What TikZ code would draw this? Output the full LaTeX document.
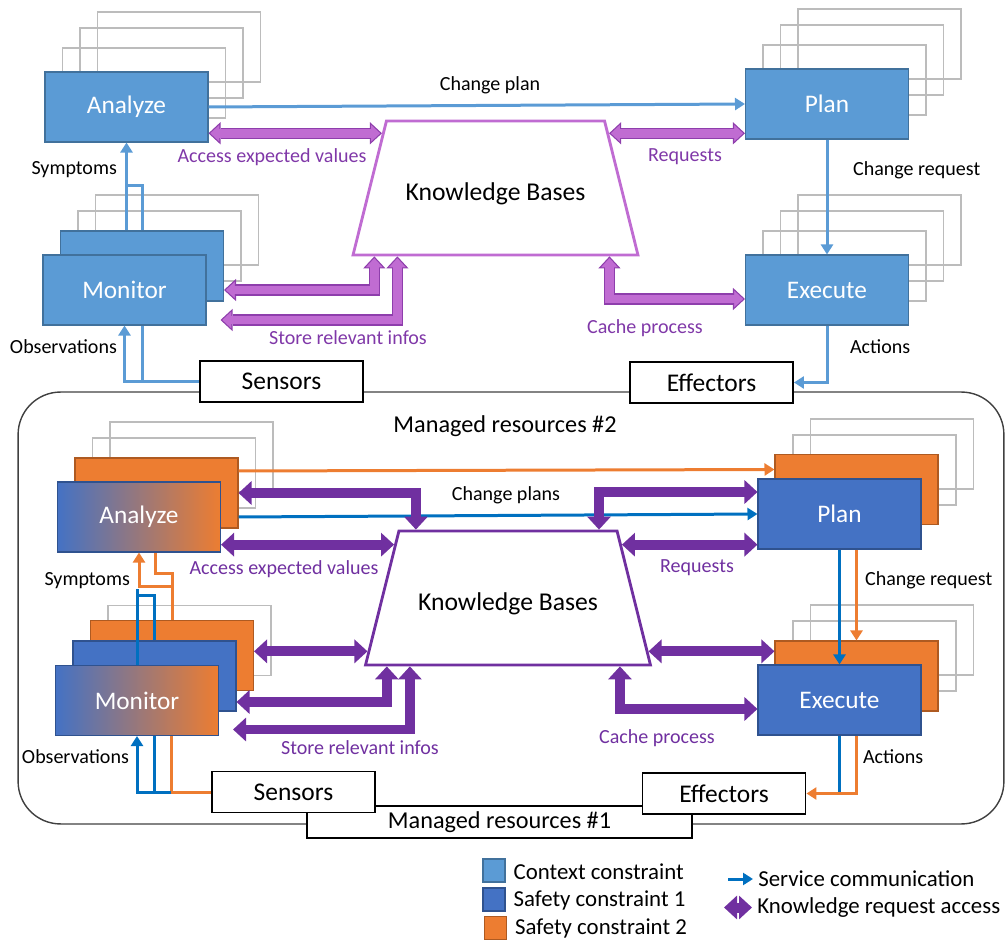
\documentclass[tikz,border=0pt]{standalone}
\usepackage{fontspec}
\setmainfont{Carlito}
\usepackage{tikz}
\usetikzlibrary{shapes,arrows.meta,calc,positioning}
\pgfdeclarelayer{bg}
\pgfdeclarelayer{mid}
\pgfsetlayers{bg,mid,main}

\definecolor{ctxblue}{RGB}{91,155,213}
\definecolor{ctxedge}{RGB}{65,113,156}
\definecolor{safeblue}{RGB}{68,114,196}
\definecolor{safeedge}{RGB}{47,82,143}
\definecolor{safeorange}{RGB}{237,125,49}
\definecolor{orangeedge}{RGB}{174,90,33}
\definecolor{mixpink}{RGB}{184,120,160}
\definecolor{srvblue}{RGB}{0,112,192}
\definecolor{ghostgray}{RGB}{188,188,188}
\definecolor{kblight}{RGB}{192,108,210}
\definecolor{kblightedge}{RGB}{142,62,172}
\definecolor{kblighttext}{RGB}{128,56,168}
\definecolor{kbdark}{RGB}{112,48,160}
\definecolor{framegray}{RGB}{64,64,64}

\tikzstyle{mapek} = [draw, rectangle, minimum width=3.26cm, minimum height=1.4cm, inner sep=0pt, line width=0.6pt, text=white, font=\fontsize{14.4}{17}\selectfont]
\tikzstyle{gradbox} = [mapek, left color=safeblue, middle color=mixpink, right color=safeorange, draw=safeedge]
\tikzstyle{ghost} = [draw=ghostgray, rectangle, minimum width=3.26cm, minimum height=1.4cm, inner sep=0pt, line width=0.9pt]
\tikzstyle{iobox} = [draw, fill=white, rectangle, minimum width=3.26cm, minimum height=0.82cm, inner sep=0pt, line width=1.1pt, font=\fontsize{14.5}{17}\selectfont]
\tikzstyle{kbase} = [trapezium, trapezium stretches body=true, trapezium angle=76, fill=white, minimum width=5.7cm, inner xsep=0pt, inner ysep=1.08cm, line width=1.6pt, text height=0.52cm, text depth=0pt, font=\fontsize{14.6}{17}\selectfont]
\tikzstyle{lbl} = [inner sep=1pt, font=\fontsize{11.4}{13}\selectfont]
\tikzstyle{legsq} = [draw, rectangle, minimum width=0.44cm, minimum height=0.46cm, inner sep=0pt, line width=0.6pt]
\tikzstyle{legtext} = [inner sep=0.1cm, anchor=west, font=\fontsize{13}{15}\selectfont]

\tikzset{
  srv/.tip={Triangle[width=0.24cm,length=0.2cm]},
  kbl/.tip={Triangle[width=0.44cm,length=0.24cm,line width=0.6pt,color=kblightedge,fill=kblight]},
  kbd/.tip={Triangle[width=0.46cm,length=0.26cm]},
  ctxline/.style={draw=ctxblue, line width=0.06cm},
  ctxarrow/.style={ctxline, -srv},
  srvline/.style={draw=srvblue, line width=0.06cm},
  srvarrow/.style={srvline, -srv},
  orgline/.style={draw=safeorange, line width=0.06cm},
  orgarrow/.style={orgline, -srv},
  kbtop/.style={draw=kblight, line width=5.1pt, kbl-kbl,
    preaction={draw=kblightedge, line width=6.3pt, -, shorten <=0.24cm, shorten >=0.24cm},
    postaction={draw=kblight, line width=5.1pt, -, shorten <=0.2cm, shorten >=0.2cm}},
  kbbot/.style={draw=kbdark, line width=0.2cm, kbd-kbd}
}

\begin{document}
\begin{tikzpicture}[x=0.02cm, y=-0.02cm]
\useasboundingbox (0,0) rectangle (1005,942);

%% Managed resources #2 %%
\node [draw=framegray, line width=0.8pt, rounded corners=0.85cm, minimum width=19.72cm, minimum height=8.64cm, inner sep=0pt] (Frame) at (511,608) {};
\node [font=\fontsize{13.8}{16}\selectfont] (FrameTag) at ($(Frame.north)+(-6,35)$) {Managed resources \#2};

%% Loop 1 (context) %%
\node [mapek, fill=ctxblue, draw=ctxedge] (Analyze) at (126.5,107) {Analyze};
\node [mapek, fill=ctxblue, draw=ctxedge] (Monitor) at (124.5,290) {Monitor};
\node [mapek, fill=ctxblue, draw=ctxedge] (Plan) at (827,104) {Plan};
\node [mapek, fill=ctxblue, draw=ctxedge] (Execute) at (827,290) {Execute};

\begin{pgfonlayer}{bg}
\node [ghost] (AnalyzeG1) at ($(Analyze)+(17.5,-24)$) {};
\node [ghost] (AnalyzeG2) at ($(Analyze)+(35,-44)$) {};
\node [ghost] (AnalyzeG3) at ($(Analyze)+(52.5,-60)$) {};
\node [ghost] (MonitorG2) at ($(Monitor)+(35,-44)$) {};
\node [ghost] (MonitorG3) at ($(Monitor)+(52.5,-60)$) {};
\node [ghost] (PlanG1) at ($(Plan)+(17.5,-24)$) {};
\node [ghost] (PlanG2) at ($(Plan)+(35,-44)$) {};
\node [ghost] (PlanG3) at ($(Plan)+(52.5,-60)$) {};
\node [ghost] (ExecuteG1) at ($(Execute)+(17.5,-24)$) {};
\node [ghost] (ExecuteG2) at ($(Execute)+(35,-44)$) {};
\node [ghost] (ExecuteG3) at ($(Execute)+(52.5,-60)$) {};
\end{pgfonlayer}
\begin{pgfonlayer}{mid}
\node [mapek, fill=ctxblue, draw=ctxedge] (MonitorBack) at ($(Monitor)+(17.5,-24)$) {};
\end{pgfonlayer}

\node [kbase, draw=kblight] (KBtop) at (495.5,188) {Knowledge Bases};
\node [iobox] (SensorsA) at (281.5,381.5) {Sensors};
\node [iobox] (EffectorsA) at (711.5,382.5) {Effectors};

%% Loop 2 (safety) %%
\node [gradbox] (AnalyzeB) at (139,517) {Analyze};
\node [gradbox] (MonitorB) at (137,700.5) {Monitor};
\node [mapek, fill=safeblue, draw=safeedge] (PlanB) at (839.5,514) {Plan};
\node [mapek, fill=safeblue, draw=safeedge] (ExecuteB) at (839.5,700) {Execute};

\begin{pgfonlayer}{bg}
\node [ghost] (AnalyzeBG2) at ($(AnalyzeB)+(35,-44)$) {};
\node [ghost] (AnalyzeBG3) at ($(AnalyzeB)+(52.5,-60)$) {};
\node [ghost] (MonitorBG3) at ($(MonitorB)+(52.5,-60)$) {};
\node [ghost] (PlanBG2) at ($(PlanB)+(35,-44)$) {};
\node [ghost] (PlanBG3) at ($(PlanB)+(52.5,-60)$) {};
\node [ghost] (ExecuteBG2) at ($(ExecuteB)+(35,-44)$) {};
\node [ghost] (ExecuteBG3) at ($(ExecuteB)+(52.5,-60)$) {};
\end{pgfonlayer}
\begin{pgfonlayer}{mid}
\node [mapek, fill=safeorange, draw=orangeedge] (AnalyzeO) at ($(AnalyzeB)+(17.5,-24)$) {};
\node [mapek, fill=safeorange, draw=orangeedge] (MonitorO) at ($(MonitorB)+(35,-45)$) {};
\node [mapek, fill=safeblue, draw=safeedge] (MonitorS) at ($(MonitorB)+(17.5,-24.5)$) {};
\node [mapek, fill=safeorange, draw=orangeedge] (PlanO) at ($(PlanB)+(17,-24.5)$) {};
\node [mapek, fill=safeorange, draw=orangeedge] (ExecuteO) at ($(ExecuteB)+(17,-24)$) {};
\end{pgfonlayer}

\node [kbase, draw=kbdark] (KBbot) at (508,598) {Knowledge Bases};
\node [iobox, minimum width=7.7cm, minimum height=0.64cm, font=\fontsize{13.8}{16}\selectfont] (MR1) at (499.5,822) {Managed resources \#1};
\node [iobox] (SensorsB) at (293.5,792) {Sensors};
\node [iobox] (EffectorsB) at (724,793.5) {Effectors};

%% Service links, loop 1 %%
\draw[ctxarrow] (Analyze.east) -- (Plan.west);
\draw[ctxarrow] (Analyze.south |- MonitorBack.north) -- (Analyze.south);
\draw[ctxline] (MonitorBack.north) |- ($(Analyze.south)+(0,43)$);
\coordinate (ObsTurnA) at ($(Monitor.south |- SensorsA.west)+(18,0)$);
\draw[ctxline] (SensorsA.west) -- (ObsTurnA) -- (ObsTurnA |- Monitor.south);
\draw[ctxarrow] (ObsTurnA) -- (Monitor.south |- ObsTurnA) -- (Monitor.south);
\draw[ctxarrow] (Plan) -- (Execute);
\draw[ctxarrow] (Execute.south) |- (EffectorsA.east);

%% Knowledge access, loop 1 %%
\coordinate (KbAccA) at ($(KBtop.top left corner)!0.1!(KBtop.bottom left corner)$);
\coordinate (KbReqA) at ($(KBtop.top right corner)!0.1!(KBtop.bottom right corner)$);
\coordinate (KbMonA) at ($(KBtop.bottom left corner)!0.08!(KBtop.bottom right corner)$);
\coordinate (KbStoA) at ($(KBtop.bottom left corner)!0.16!(KBtop.bottom right corner)$);
\coordinate (KbCacA) at ($(KBtop.bottom left corner)!0.895!(KBtop.bottom right corner)$);
\draw[kbtop] (Analyze.east |- KbAccA) -- (KbAccA);
\draw[kbtop] (KbReqA) -- (Plan.west |- KbReqA);
\draw[kbtop] ($(MonitorBack.east)+(0,24)$) -| (KbMonA);
\draw[kbtop] ($(Monitor.east)+(14,30)$) -| (KbStoA);
\draw[kbtop] (KbCacA) |- ($(Execute.west)+(0,9)$);

%% Service links, loop 2 %%
\draw[orgarrow] ($(AnalyzeO.east)+(0,-22)$) -- ($(PlanO.west)+(0,-20)$);
\draw[srvarrow] ($(AnalyzeO.east)+(0,24)$) -- (PlanB.west);
\draw[srvline] (MonitorB.north) -- ($(MonitorB.north)+(0,-76)$);
\draw[srvline] (MonitorS.north) |- ($(MonitorB.north)+(0,-69)$);
\draw[orgline] (MonitorO.north) |- ($(AnalyzeB.south)+(16,21)$) -- ($(AnalyzeB.south)+(16,0)$);
\draw[orgarrow] ($(MonitorO.north)+(0,-33)$) -| (AnalyzeB.south);
\coordinate (ObsTurnB) at ($(MonitorB.south |- SensorsB.west)+(34,0)$);
\draw[orgline] (SensorsB.west) -- (ObsTurnB) -- (ObsTurnB |- MonitorB.south);
\draw[srvarrow] (ObsTurnB) -- (MonitorB.south |- ObsTurnB) -- (MonitorB.south);
\draw[srvline] ($(MonitorB.south |- ObsTurnB)+(17,0)$) -- ($(MonitorB.south)+(17,0)$);
\draw[srvarrow] (PlanB) -- (ExecuteB);
\draw[orgarrow] (ExecuteO.north |- PlanB.south) -- (ExecuteO.north);
\draw[srvline] (ExecuteB.south) -- (ExecuteB.south |- EffectorsB.east);
\draw[orgarrow] (ExecuteO.south |- ExecuteB.south) |- (EffectorsB.east);

%% Knowledge access, loop 2 %%
\coordinate (KbPlL) at ($(KBbot.top left corner)!0.082!(KBbot.top right corner)$);
\coordinate (KbPlR) at ($(KBbot.top left corner)!0.913!(KBbot.top right corner)$);
\coordinate (KbAccB) at ($(KBbot.top left corner)!0.11!(KBbot.bottom left corner)$);
\coordinate (KbReqB) at ($(KBbot.top right corner)!0.11!(KBbot.bottom right corner)$);
\coordinate (KbMidL) at ($(KBbot.top left corner)!0.89!(KBbot.bottom left corner)$);
\coordinate (KbMidR) at ($(KBbot.top right corner)!0.89!(KBbot.bottom right corner)$);
\coordinate (KbMonB) at ($(KBbot.bottom left corner)!0.08!(KBbot.bottom right corner)$);
\coordinate (KbStoB) at ($(KBbot.bottom left corner)!0.16!(KBbot.bottom right corner)$);
\coordinate (KbCacB) at ($(KBbot.bottom left corner)!0.888!(KBbot.bottom right corner)$);
\draw[kbbot] (AnalyzeO.east) -| (KbPlL);
\draw[kbbot] (KbPlR) |- ($(PlanB.west)+(0,-22)$);
\draw[kbbot] (AnalyzeB.east |- KbAccB) -- (KbAccB);
\draw[kbbot] (KbReqB) -- (PlanB.west |- KbReqB);
\draw[kbbot] (MonitorO.east |- KbMidL) -- (KbMidL);
\draw[kbbot] (KbMidR) -- (ExecuteO.west |- KbMidR);
\draw[kbbot] ($(MonitorS.east)+(0,26)$) -| (KbMonB);
\draw[kbbot] ($(MonitorB.east)+(14,29)$) -| (KbStoB);
\draw[kbbot] (KbCacB) |- ($(ExecuteB.west)+(0,9)$);

%% Labels %%
\node [lbl] (ChangePlanLbl) at (490,85) {Change plan};
\node [lbl, text=kblighttext] (AccessLblA) at (272,157) {Access expected values};
\node [lbl, text=kblighttext] (RequestsLblA) at (685,157) {Requests};
\node [lbl, anchor=east] (SymptomsLblA) at (119,170) {Symptoms};
\node [lbl, anchor=east] (ObsLblA) at (119,347) {Observations};
\node [lbl, text=kblighttext] (StoreLblA) at (348,338) {Store relevant infos};
\node [lbl, text=kblighttext] (CacheLblA) at (645,328) {Cache process};
\node [lbl, anchor=west] (ChReqLblA) at (851,170) {Change request};
\node [lbl, anchor=west] (ActionsLblA) at (848,347) {Actions};

\node [lbl] (ChangePlansLbl) at (506,495) {Change plans};
\node [lbl, text=kbdark] (AccessLblB) at (284,569) {Access expected values};
\node [lbl, text=kbdark] (RequestsLblB) at (697,568) {Requests};
\node [lbl, anchor=east] (SymptomsLblB) at (132,581) {Symptoms};
\node [lbl, anchor=east] (ObsLblB) at (131,757) {Observations};
\node [lbl, text=kbdark] (StoreLblB) at (360,748) {Store relevant infos};
\node [lbl, text=kbdark] (CacheLblB) at (657,738) {Cache process};
\node [lbl, anchor=west] (ChReqLblB) at (863,580) {Change request};
\node [lbl, anchor=west] (ActionsLblB) at (861,757) {Actions};

%% Legend %%
\node [legsq, fill=ctxblue, draw=ctxedge] (LegCtx) at (494,870.5) {};
\node [legsq, fill=safeblue, draw=safeedge] (LegSafeA) at (494,899.5) {};
\node [legsq, fill=safeorange, draw=orangeedge] (LegSafeB) at (495.5,928) {};
\node [legtext, inner sep=1pt] (LegCtxT) at ($(LegCtx.east)+(6,1)$) {Context constraint};
\node [legtext, inner sep=1pt] (LegSafeAT) at ($(LegSafeA.east)+(6,1)$) {Safety constraint 1};
\node [legtext, inner sep=1pt] (LegSafeBT) at ($(LegSafeB.east)+(6,0)$) {Safety constraint 2};

\node [legtext] (LegSrvT) at (753,879) {Service communication};
\coordinate (LegSrvA) at (728,879);
\draw[srvarrow] (LegSrvA) -- (LegSrvT.west);
\node [legtext] (LegKbT) at (752,907.5) {Knowledge request access};
\coordinate (LegKbA) at (724,907.5);
\draw[kbbot] (LegKbA) -- (LegKbT.west);
\end{tikzpicture}
\end{document}
